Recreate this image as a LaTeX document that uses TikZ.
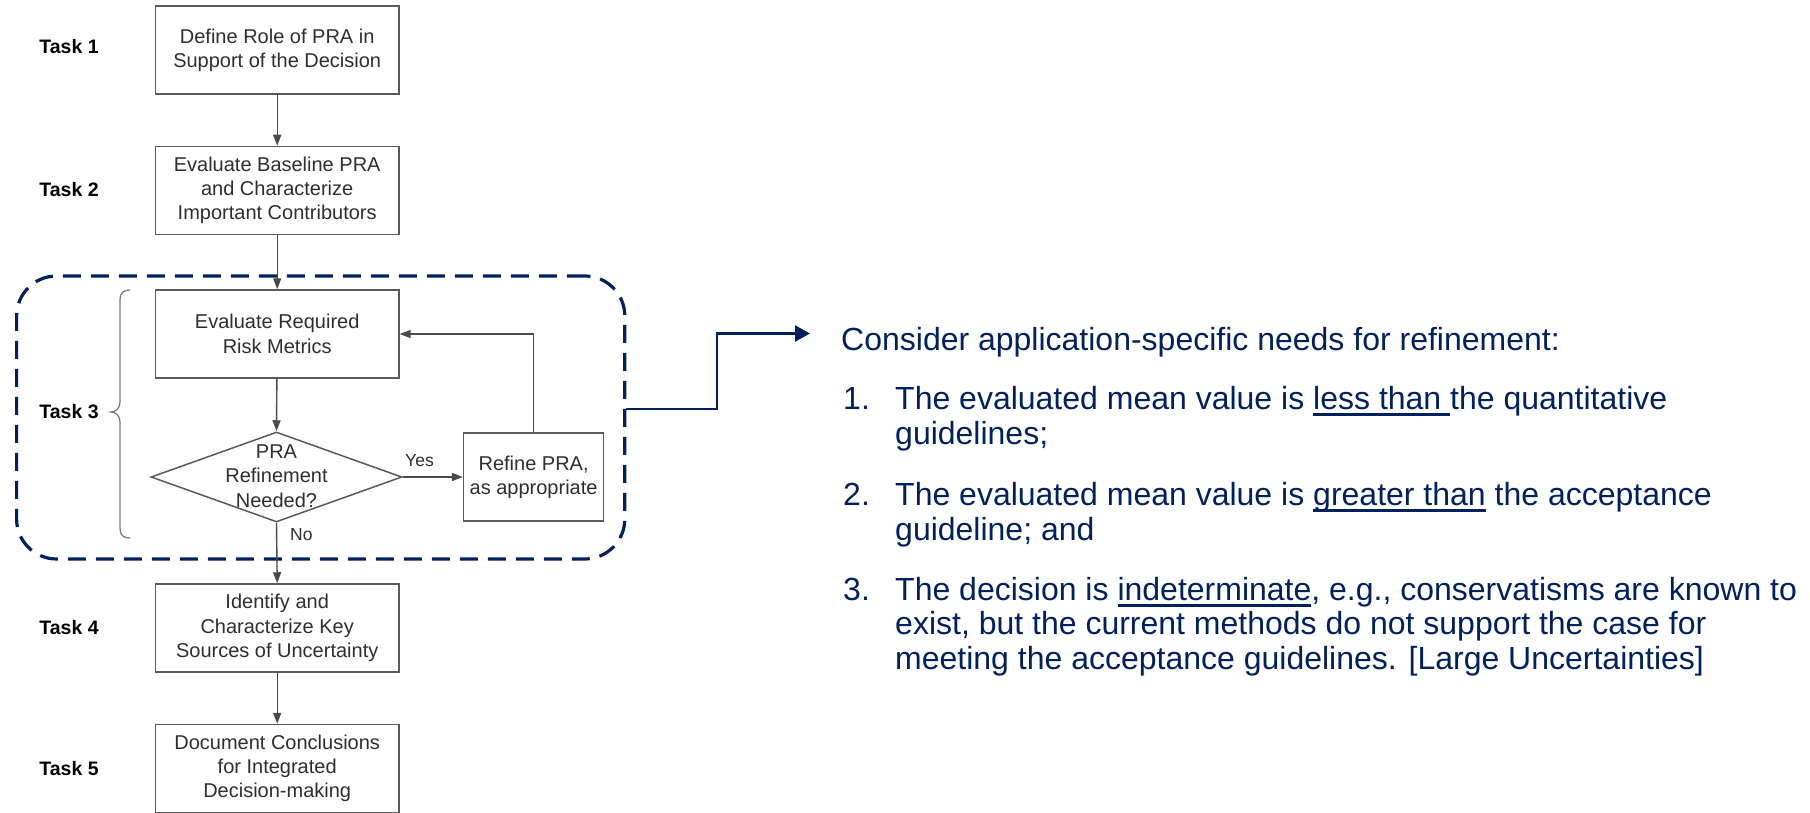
\documentclass[tikz,border=0pt]{standalone}
\usepackage{fontspec}
\setmainfont{Liberation Sans}
\usetikzlibrary{shapes.geometric,arrows.meta,calc}
\definecolor{navy}{RGB}{0,32,96}
\definecolor{boxline}{HTML}{5A5A5A}
\definecolor{boxtext}{HTML}{2E2E2E}
\definecolor{arrowc}{HTML}{4A4A4A}
\newcommand\myul[1]{\leavevmode\setbox0\hbox{#1}\rlap{\color{navy}\rule[-6.5pt]{\wd0}{2.5pt}}\box0\relax}
\begin{document}
\begin{tikzpicture}[x=1pt,y=-1pt,
  taskbox/.style={draw=boxline, line width=1.5pt, minimum width=243.3pt, minimum height=88pt,
    inner sep=2pt, align=center, font=\fontsize{20}{24.3}\selectfont, text=boxtext},
  tasklbl/.style={font=\bfseries\fontsize{19.5}{22}\selectfont, text=black, inner sep=0pt},
  flow/.style={draw=arrowc, line width=1.4pt, -{Triangle[length=11pt,width=8pt]}},
  small/.style={font=\fontsize{17.5}{20}\selectfont, text=boxtext, inner sep=0pt},
  rtxt/.style={anchor=base west, inner sep=0pt, font=\fontsize{32}{36}\selectfont, text=navy},
  navyarr/.style={draw=navy, line width=2.4pt, -{Triangle[length=15pt,width=16pt]}},
  bracestyle/.style={draw=boxline!80, line width=1.3pt}
]
\useasboundingbox (0,0) rectangle (1810,813);

% dashed group
\node[draw=navy, line width=3.2pt, dash pattern=on 18pt off 10pt, rounded corners=40pt,
  minimum width=608.2pt, minimum height=283pt, inner sep=0pt] (grp) at (320.7,417.5) {};

% task labels
\node[tasklbl] (k1) at (69,46.7) {Task 1};
\node[tasklbl] (k2) at (69,190) {Task 2};
\node[tasklbl] (k3) at (69,412) {Task 3};
\node[tasklbl] (k4) at (69,628) {Task 4};
\node[tasklbl] (k5) at (69,768.5) {Task 5};

% boxes
\node[taskbox] (t1) at (277.2,50) {Define Role of PRA in\\Support of the Decision};
\node[taskbox] (t2) at (277.2,190.5) {Evaluate Baseline PRA\\and Characterize\\Important Contributors};
\node[taskbox] (t3) at (277.2,334) {Evaluate Required\\Risk Metrics};
\node[draw=boxline, line width=1.5pt, diamond, minimum width=251pt, minimum height=90pt, inner sep=0pt] (d) at (276.5,477) {};
\node[align=center, font=\fontsize{20}{24.3}\selectfont, text=boxtext, inner sep=0pt] (dt) at (276.5,476) {PRA\\Refinement\\Needed?};
\node[taskbox, minimum width=140pt] (r) at (533.6,477) {Refine PRA,\\as appropriate};
\node[taskbox] (t4) at (277.2,628) {Identify and\\Characterize Key\\Sources of Uncertainty};
\node[taskbox] (t5) at (277.2,768.5) {Document Conclusions\\for Integrated\\Decision-making};

% brace
\draw[bracestyle] (130,290) .. controls (123,290) and (120,293) .. (120,300) -- (120,402)
  .. controls (120,408) and (116,412) .. (111,412)
  .. controls (116,412) and (120,416) .. (120,422) -- (120,528)
  .. controls (120,535) and (123,538) .. (130,538);

% flow arrows
\draw[flow] (t1) -- (t2);
\draw[flow] (t2) -- (t3);
\draw[flow] (t3) -- (d.north);
\draw[flow] (d.east) -- (r.west);
\draw[flow] (r.north) |- (t3.east);
\draw[flow] (d.south) -- (t4.north);
\draw[flow] (t4) -- (t5);
\node[small] (yes) at (419.5,461) {Yes};
\node[small, anchor=west] (no) at (290,535) {No};

% connector to right text
\coordinate (cy) at (0,409);
\coordinate (cbend) at (717,333.5);
\coordinate (ctip) at (810,333.5);
\draw[navyarr] (grp.east |- cy) -| (cbend) -- (ctip);

% right text
\node[rtxt] (cons) at (841,350.7) {Consider application-specific needs for refinement:};
\node[rtxt] (n1) at (843,409) {1.};
\node[rtxt] (l1a) at (895,409) {The evaluated mean value is \myul{less than }the quantitative};
\node[rtxt] (l1b) at (895,444) {guidelines;};
\node[rtxt] (n2) at (843,505) {2.};
\node[rtxt] (l2a) at (895,505) {The evaluated mean value is \myul{greater than} the acceptance};
\node[rtxt] (l2b) at (895,540) {guideline; and};
\node[rtxt] (n3) at (843,600) {3.};
\node[rtxt] (l3a) at (895,600) {The decision is \myul{indeterminate}, e.g., conservatisms are known to};
\node[rtxt] (l3b) at (895,634.5) {exist, but the current methods do not support the case for};
\node[rtxt] (l3c) at (895,669) {meeting the acceptance guidelines. [Large Uncertainties]};
\end{tikzpicture}
\end{document}
